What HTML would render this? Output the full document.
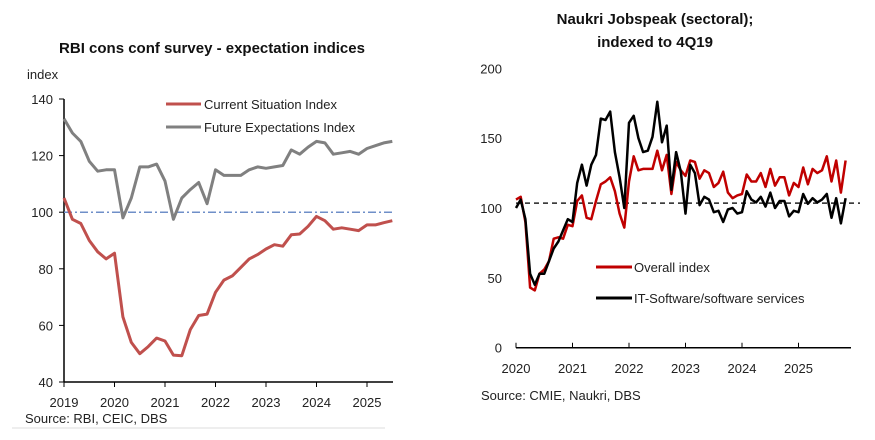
<!DOCTYPE html>
<html><head><meta charset="utf-8">
<style>
body{margin:0;background:#fff;}
svg{display:block;font-family:"Liberation Sans",Arial,sans-serif;}
</style></head>
<body>
<svg id="s" width="875" height="440" viewBox="0 0 875 440">
<rect width="875" height="440" fill="#fff"/>
<text x="212" y="53" text-anchor="middle" font-size="15" font-weight="bold" fill="#111">RBI cons conf survey - expectation indices</text>
<text x="27" y="79" font-size="13" fill="#222">index</text>
<text x="655" y="24" text-anchor="middle" font-size="15" font-weight="bold" fill="#111">Naukri Jobspeak (sectoral);</text>
<text x="655" y="47" text-anchor="middle" font-size="15" font-weight="bold" fill="#111">indexed to 4Q19</text>
<text x="25" y="423" font-size="13" fill="#222">Source: RBI, CEIC, DBS</text>
<text x="481" y="400" font-size="13" fill="#222">Source: CMIE, Naukri, DBS</text>
<line x1="12" y1="428" x2="385" y2="428" stroke="#ddd" stroke-width="1"/>
<g id="L"></g><g id="R"></g>
</svg>
<script>
// ---- Left chart data (bimonthly, 2019.0 to 2025.5)
const leftYears = [2019,2020,2021,2022,2023,2024,2025];
const leftYTicks = [40,60,80,100,120,140];
const currentIdx = [105,97.5,96,90,86,83.5,85.5,63,54,50,52.5,55.5,54.5,49.5,49.3,58.5,63.5,64,71.7,76,77.5,80.5,83.5,85,87,88.5,88,92,92.3,95,98.5,97,94,94.5,94,93.5,95.5,95.5,96.3,97];
const futureIdx = [133,128,125,118,114.5,115,115,98,105,116,116,117,111,97.5,105,108,110.5,103,115,113,113,113,115,116,115.5,116,116.5,122,120.5,123,125,124.5,120.5,121,121.5,120.5,122.5,123.5,124.5,125];
const leftRef = 100;
// ---- Right chart data (monthly, Jan 2020 to Nov 2025)
const rightYears = [2020,2021,2022,2023,2024,2025];
const rightYTicks = [0,50,100,150,200];
const overallIdx = [106,108,90,43,41,53,56,62,78,79,78,88, 87,105,109,93,92,105,117,119,122,112,96,86, 119,137,127,128,128,128,141,127,138,110,133,127, 123,134,133,121,127,125,115,118,126,111,107,109, 110,124,119,119,125,115,128,116,122,122,109,118, 115,129,117,128,125,127,137,119,134,111,134];
const itIdx = [100,106,92,53,45,53,53,62,71,76,84,92, 90,118,131,116,131,138,164,163,169,140,122,100, 161,166,150,140,141,151,176,147,159,113,140,126, 96,131,125,102,108,106,97,98,90,99,100,96, 97,112,106,104,108,101,111,100,105,105,94,98, 97,110,103,107,104,106,110,93,107,89,107];
const rightRef = 103.5;

const NS="http://www.w3.org/2000/svg";
function mk(p,tag,at){const e=document.createElementNS(NS,tag);for(const k in at)e.setAttribute(k,at[k]);p.appendChild(e);return e;}

// Left
const L=document.getElementById('L');
const lx=t=>64+(t-2019)*50.5, ly=v=>382-(v-40)*2.83;
let a=mk(L,'line',{x1:64,y1:ly(40),x2:393,y2:ly(40),stroke:'#000','stroke-width':1.5});

a=mk(L,'line',{x1:64,y1:ly(40),x2:64,y2:ly(140),stroke:'#000','stroke-width':1.5});

leftYTicks.forEach(v=>{mk(L,'line',{x1:59,y1:ly(v),x2:64,y2:ly(v),stroke:'#000'});
 const t=mk(L,'text',{x:53,y:ly(v)+5,'text-anchor':'end','font-size':13,fill:'#222'});t.textContent=v;
 });
leftYears.forEach(y=>{mk(L,'line',{x1:lx(y),y1:ly(40),x2:lx(y),y2:ly(40)+5,stroke:'#000'});
 const t=mk(L,'text',{x:lx(y),y:407,'text-anchor':'middle','font-size':13,fill:'#222'});t.textContent=y;
 });
a=mk(L,'line',{x1:64,y1:ly(leftRef),x2:393,y2:ly(leftRef),stroke:'#6f8fc8','stroke-width':1.5,'stroke-dasharray':'8,3,2,3'});

function pts(arr,fx,fy,t0,step){return arr.map((v,i)=>fx(t0+i*step).toFixed(1)+','+fy(v).toFixed(1)).join(' ');}
a=mk(L,'polyline',{points:pts(futureIdx,lx,ly,2019,1/6),fill:'none',stroke:'#808080','stroke-width':3,'stroke-linejoin':'round'});

a=mk(L,'polyline',{points:pts(currentIdx,lx,ly,2019,1/6),fill:'none',stroke:'#c0504d','stroke-width':3,'stroke-linejoin':'round'});

[['#c0504d','Current Situation Index',104],['#808080','Future Expectations Index',127]].forEach(d=>{
 const g=mk(L,'g',{});
 mk(g,'line',{x1:166,y1:d[2],x2:201,y2:d[2],stroke:d[0],'stroke-width':3});
 const t=mk(g,'text',{x:204,y:d[2]+5,'font-size':13,fill:'#222'});t.textContent=d[1];});

// Right
const R=document.getElementById('R');
const rx=t=>516+(t-2020)*56.5, ry=v=>347.7-v*1.397;
a=mk(R,'line',{x1:516,y1:ry(0),x2:851,y2:ry(0),stroke:'#000','stroke-width':1.5});

rightYTicks.forEach(v=>{const t=mk(R,'text',{x:502,y:ry(v)+5,'text-anchor':'end','font-size':13,fill:'#222'});t.textContent=v;
 });
rightYears.forEach(y=>{mk(R,'line',{x1:rx(y),y1:ry(0),x2:rx(y),y2:ry(0)-5,stroke:'#000'});
 const t=mk(R,'text',{x:rx(y),y:373,'text-anchor':'middle','font-size':13,fill:'#222'});t.textContent=y;
 });
a=mk(R,'line',{x1:516,y1:ry(rightRef),x2:860,y2:ry(rightRef),stroke:'#222','stroke-width':1.5,'stroke-dasharray':'5,4'});

a=mk(R,'polyline',{points:pts(overallIdx,rx,ry,2020,1/12),fill:'none',stroke:'#c00000','stroke-width':2.5,'stroke-linejoin':'round'});

a=mk(R,'polyline',{points:pts(itIdx,rx,ry,2020,1/12),fill:'none',stroke:'#000','stroke-width':2.5,'stroke-linejoin':'round'});

[['#c00000','Overall index',267],['#000','IT-Software/software  services',298]].forEach(d=>{
 const g=mk(R,'g',{});
 mk(g,'line',{x1:596,y1:d[2],x2:632,y2:d[2],stroke:d[0],'stroke-width':3});
 const t=mk(g,'text',{x:634,y:d[2]+5,'font-size':13,fill:'#222'});t.textContent=d[1];});
</script>
</body></html>
